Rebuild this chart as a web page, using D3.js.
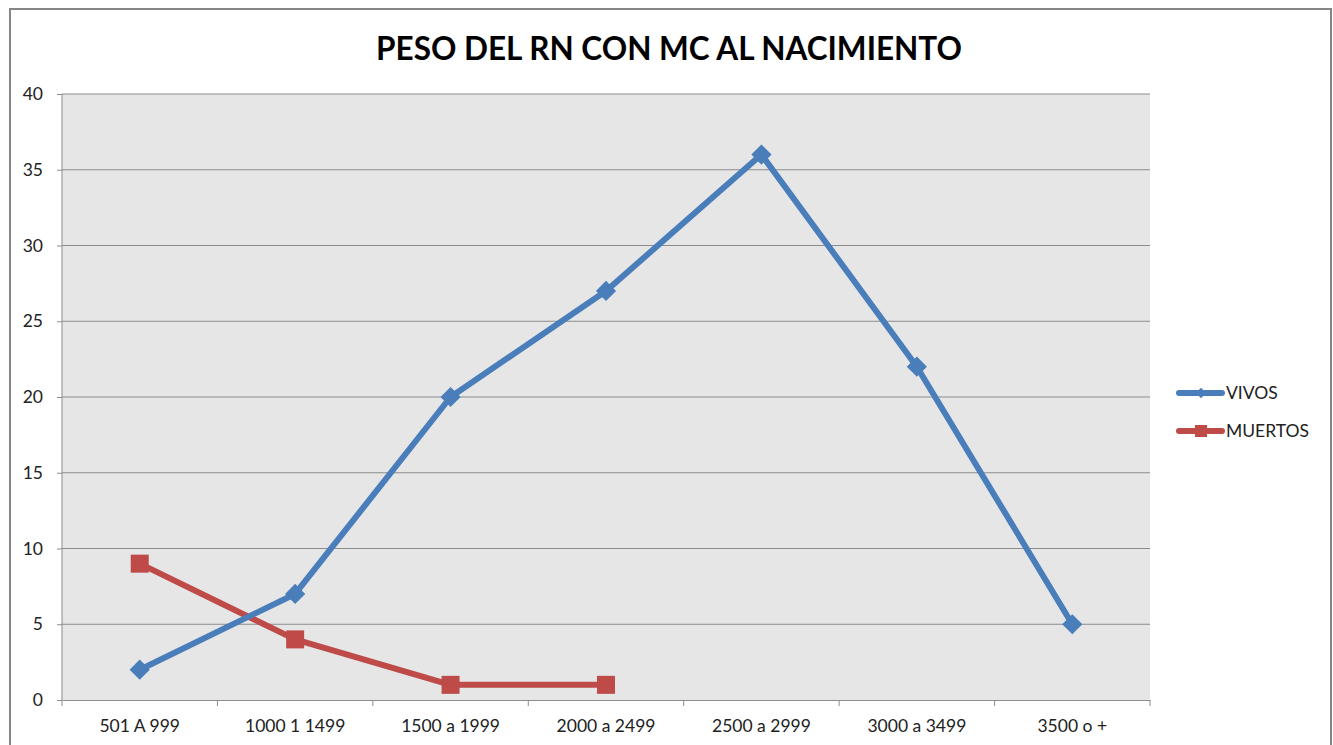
<!DOCTYPE html>
<html>
<head>
<meta charset="utf-8">
<script src="https://cdn.jsdelivr.net/npm/d3@7"></script>
<style>
  body { margin: 0; background: #fff; }
  svg { font-family: Lato, "Open Sans", sans-serif; }
</style>
</head>
<body>
<svg width="1333" height="745"></svg>
<script>
const categories = ["501 A 999", "1000 1 1499", "1500 a 1999", "2000 a 2499", "2500 a 2999", "3000 a 3499", "3500 o +"];
const vivos = [2, 7, 20, 27, 36, 22, 5];
const muertos = [9, 4, 1, 1, null, null, null];
const yTicks = [0, 5, 10, 15, 20, 25, 30, 35, 40];

const svg = d3.select("svg");
const plotL = 62, plotR = 1150, plotT = 94, plotB = 700;

// outer chart border
svg.append("rect")
    .attr("x", 10).attr("y", 9)
    .attr("width", 1321).attr("height", 760)
    .attr("fill", "#fff")
    .attr("stroke", "#868686")
    .attr("stroke-width", 2);

svg.append("text")
    .attr("x", 669).attr("y", 60)
    .attr("text-anchor", "middle")
    .attr("font-size", 31.5)
    .attr("font-weight", "bold")
    .text("PESO DEL RN CON MC AL NACIMIENTO");

const x = d3.scaleBand().domain(categories).range([plotL, plotR]);
const y = d3.scaleLinear().domain([0, 40]).range([plotB, plotT]);

svg.append("rect")
    .attr("x", plotL).attr("y", plotT)
    .attr("width", plotR - plotL).attr("height", plotB - plotT)
    .attr("fill", "#e6e6e6");

// gridlines
svg.append("g")
    .selectAll("line")
    .data(yTicks.filter(d => d > 0))
    .enter().append("line")
    .attr("x1", plotL).attr("x2", plotR)
    .attr("y1", d => y(d)).attr("y2", d => y(d))
    .attr("stroke", "#8c8c8c")
    .attr("stroke-width", 1);

const yAxis = svg.append("g")
    .attr("transform", "translate(" + plotL + ",0)")
    .call(d3.axisLeft(y).tickValues(yTicks).tickSize(5).tickPadding(14));

const xAxis = svg.append("g")
    .attr("transform", "translate(0," + plotB + ")")
    .call(d3.axisBottom(x).tickSize(0).tickPadding(20));

// ticks between categories
svg.append("g")
    .selectAll("line")
    .data(d3.range(categories.length + 1))
    .enter().append("line")
    .attr("x1", i => plotL + i * x.step()).attr("x2", i => plotL + i * x.step())
    .attr("y1", plotB).attr("y2", plotB + 6)
    .attr("stroke", "#8c8c8c");

[yAxis, xAxis].forEach(function(a) {
    a.selectAll("path, line").attr("stroke", "#8c8c8c");
    a.selectAll("text").attr("font-size", 17.5).attr("fill", "#222")
        .attr("font-family", "Lato, 'Open Sans', sans-serif");
});
yAxis.select(".domain").attr("d", "M0," + plotT + "V" + plotB);

const cx = d => x(d) + x.bandwidth() / 2;

const line = d3.line()
    .defined(d => d[1] != null)
    .x(d => cx(d[0]))
    .y(d => y(d[1]));

const blue = "#4a7ebb", red = "#be4b48";

svg.append("path")
    .datum(categories.map((c, i) => [c, muertos[i]]))
    .attr("d", line)
    .attr("fill", "none")
    .attr("stroke", red)
    .attr("stroke-width", 6)
    .attr("stroke-linejoin", "round");

svg.append("g")
    .selectAll("rect")
    .data(categories.map((c, i) => [c, muertos[i]]).filter(d => d[1] != null))
    .enter().append("rect")
    .attr("x", d => cx(d[0]) - 9).attr("y", d => y(d[1]) - 9)
    .attr("width", 18).attr("height", 18)
    .attr("fill", red);

svg.append("path")
    .datum(categories.map((c, i) => [c, vivos[i]]))
    .attr("d", line)
    .attr("fill", "none")
    .attr("stroke", blue)
    .attr("stroke-width", 6)
    .attr("stroke-linejoin", "round");

svg.append("g")
    .selectAll("path")
    .data(categories.map((c, i) => [c, vivos[i]]))
    .enter().append("path")
    .attr("transform", d => "translate(" + cx(d[0]) + "," + y(d[1]) + ")")
    .attr("d", d3.symbol(d3.symbolDiamond2, 260))
    .attr("fill", blue);

// legend
const legend = [
    { name: "VIVOS", color: blue, sym: "diamond" },
    { name: "MUERTOS", color: red, sym: "square" }
];
const lg = svg.append("g")
    .selectAll("g")
    .data(legend)
    .enter().append("g")
    .attr("transform", (d, i) => "translate(1179," + (393 + i * 38) + ")");

lg.append("line")
    .attr("x1", 0).attr("x2", 43)
    .attr("stroke", d => d.color)
    .attr("stroke-width", 6)
    .attr("stroke-linecap", "round");

lg.append("path")
    .attr("transform", "translate(22,0)")
    .attr("d", d => d.sym === "diamond" ? d3.symbol(d3.symbolDiamond2, 70)() : "M-6,-6H6V6H-6Z")
    .attr("fill", d => d.color);

lg.append("text")
    .attr("x", 47).attr("y", 6)
    .attr("font-size", 17.5)
    .attr("fill", "#222")
    .text(d => d.name);
</script>
</body>
</html>
